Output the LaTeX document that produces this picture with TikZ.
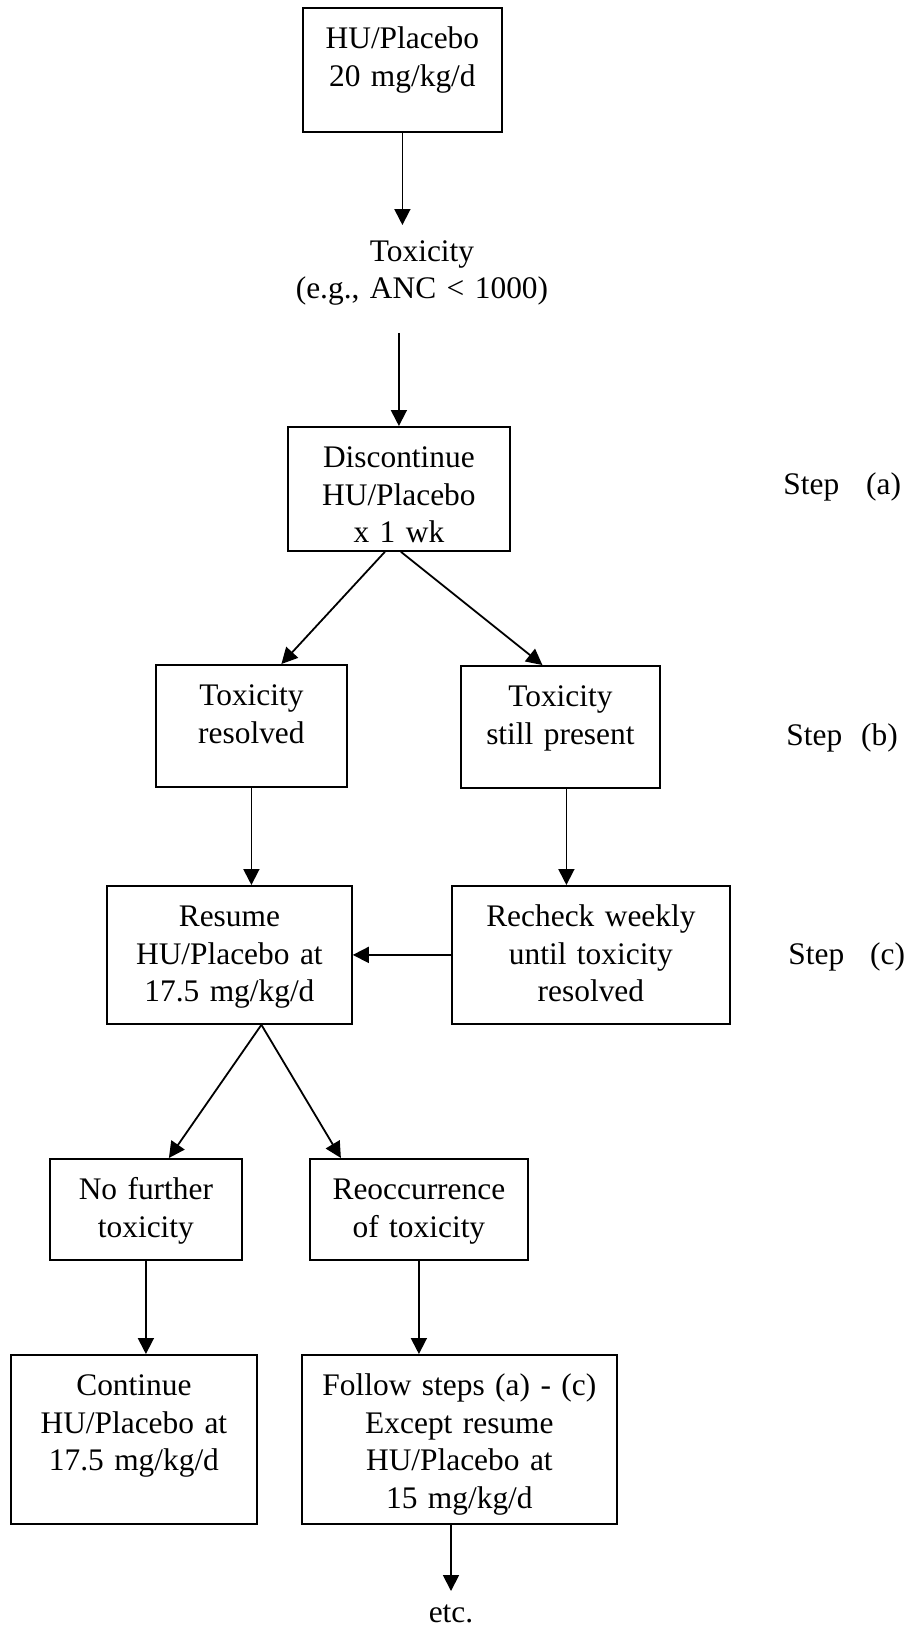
\documentclass[tikz,border=0pt]{standalone}
\usepackage{fontspec}
\setmainfont{Liberation Serif}
\usetikzlibrary{arrows.meta}

\begin{document}
\begin{tikzpicture}[x=0.5pt, y=-0.5pt,
    font=\fontsize{15.7}{18.7}\selectfont,
    box/.style={draw, line width=0.9pt, inner sep=0pt, anchor=north west,
        align=center, text height=20.5pt},
    conn/.style={line width=0.9pt, -{Triangle[length=8pt,width=8pt]}}]
    \useasboundingbox (0,0) rectangle (911,1629);

    % Dosis inicial
    \node[box, text width=99.5pt, text depth=41.5pt] (hu) at (302,7) {HU/Placebo\\20 mg/kg/d};
    \node[inner sep=0pt, anchor=north, text width=130pt, align=center,
        text height=18pt, text depth=35.5pt] (tox) at (422,225) {Toxicity\\(e.g., ANC < 1000)};
    \node[box, text width=111pt, text depth=41.5pt] (disc) at (287,426) {Discontinue\\HU/Placebo\\x 1 wk};

    % Paso (b)
    \node[box, text width=95.5pt, text depth=40.5pt] (tres) at (155,664) {Toxicity\\resolved};
    \node[box, text width=99.5pt, text depth=40.5pt] (sp) at (460,665) {Toxicity\\still present};

    % Paso (c)
    \node[box, text width=122.5pt, text depth=48.5pt] (res) at (106,885) {Resume\\HU/Placebo at\\17.5 mg/kg/d};
    \node[box, text width=139pt, text depth=48.5pt] (rc) at (451,885) {Recheck weekly\\until toxicity\\resolved};

    % Despues de reanudar
    \node[box, text width=96pt, text depth=30pt] (nf) at (49,1158) {No further\\toxicity};
    \node[box, text width=109pt, text depth=30pt] (ro) at (309,1158) {Reoccurrence\\of toxicity};
    \node[box, text width=123pt, text depth=64pt] (cont) at (10,1354) {Continue\\HU/Placebo at\\17.5 mg/kg/d};
    \node[box, text width=157.5pt, text depth=64pt] (fol) at (301,1354) {Follow steps (a) - (c)\\Except resume\\HU/Placebo at\\15 mg/kg/d};
    \node[inner sep=0pt, anchor=north, text height=15.5pt] (etc) at (451,1591) {etc.};

    % Pasos
    \node[anchor=base west, inner sep=0pt] (stepa) at (783,494) {Step\hspace{13.5pt}(a)};
    \node[anchor=base west, inner sep=0pt] (stepb) at (786,745) {Step\hspace{9.5pt}(b)};
    \node[anchor=base west, inner sep=0pt] (stepc) at (788,964) {Step\hspace{13pt}(c)};

    % Flechas
    \draw[conn] (hu.south) -- (hu.south |- tox.north);
    \draw[conn] (disc.north |- tox.south) -- (disc.north);
    \draw[conn] ([xshift=-7pt]disc.south) -- ([xshift=15pt]tres.north);
    \draw[conn] ([xshift=1pt]disc.south) -- ([xshift=-9pt]sp.north);
    \draw[conn] (tres.south) -- (tres.south |- res.north);
    \draw[conn] ([xshift=3pt]sp.south) -- ([xshift=3pt]sp.south |- rc.north);
    \draw[conn] (rc.west) -- (res.east);
    \draw[conn] ([xshift=16pt]res.south) -- ([xshift=11.5pt]nf.north);
    \draw[conn] ([xshift=16pt]res.south) -- ([xshift=-39pt]ro.north);
    \draw[conn] (nf.south) -- (nf.south |- cont.north);
    \draw[conn] (ro.south) -- (ro.south |- fol.north);
    \draw[conn] (etc.north |- fol.south) -- (etc.north);

\end{tikzpicture}
\end{document}
